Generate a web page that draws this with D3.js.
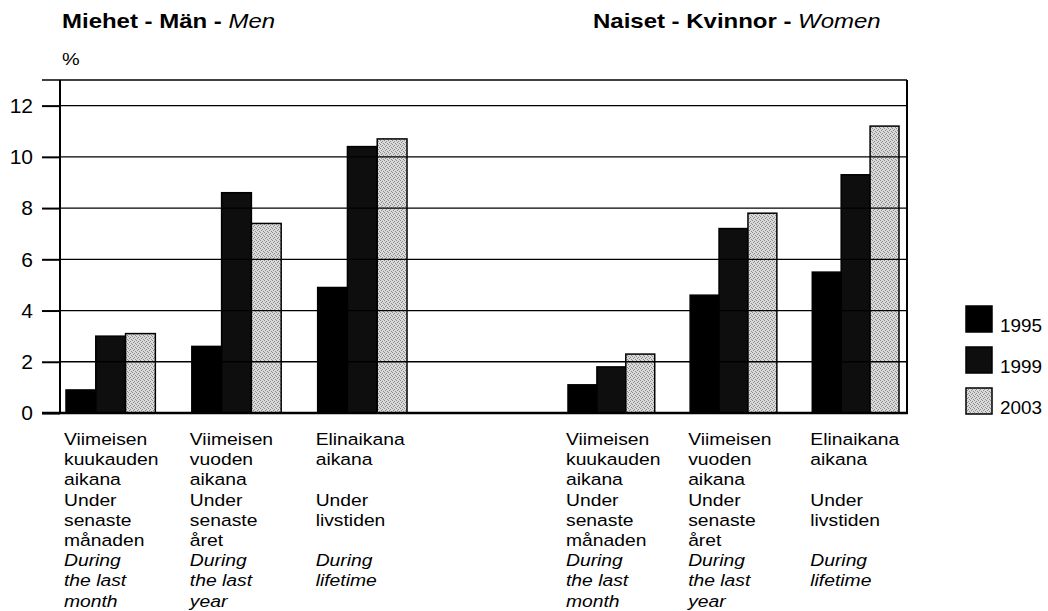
<!DOCTYPE html>
<html>
<head>
<meta charset="utf-8">
<script src="https://cdn.jsdelivr.net/npm/d3@7"></script>
<style>
  body { margin: 0; background: #fff; }
  svg { font-family: "Liberation Sans", Arial, Helvetica, sans-serif; }
</style>
</head>
<body>
<div id="chart"></div>
<script>
// data
const years = ['1995', '1999', '2003']
const categoryKeys = ['month', 'year', 'lifetime']
const yTicks = [0, 2, 4, 6, 8, 10, 12]
// label lines: Finnish, Swedish, English (italic)
const labelFi = [['Viimeisen', 'kuukauden', 'aikana'], ['Viimeisen', 'vuoden', 'aikana'], ['Elinaikana', 'aikana', '']]
const labelSv = [['Under', 'senaste', 'månaden'], ['Under', 'senaste', 'året'], ['Under', 'livstiden', '']]
const labelEn = [['During', 'the last', 'month'], ['During', 'the last', 'year'], ['During', 'lifetime', '']]
const men1995 = [0.9, 2.6, 4.9]
const men1999 = [3.0, 8.6, 10.4]
const men2003 = [3.1, 7.4, 10.7]
const women1995 = [1.1, 4.6, 5.5]
const women1999 = [1.8, 7.2, 9.3]
const women2003 = [2.3, 7.8, 11.2]

// layout (pixels)
const width = 1048
const height = 611
const plotLeft = 60
const plotRight = 907
const plotTop = 80
const plotBottom = 413
const stretch = 1.17 // the scanned text is a bit wider than Arial

const panels = [
  { title: 'Miehet - Män - ', titleEn: 'Men', titleX: 62, range: [66, 407], series: [men1995, men1999, men2003] },
  { title: 'Naiset - Kvinnor - ', titleEn: 'Women', titleX: 593, range: [568, 899], series: [women1995, women1999, women2003] }
]

const svg = d3.select('#chart').append('svg')
  .attr('width', width)
  .attr('height', height)

// stippled grey fill for 2003
const pat = svg.append('defs').append('pattern')
  .attr('id', 'dots')
  .attr('width', 4).attr('height', 4)
  .attr('patternUnits', 'userSpaceOnUse')
pat.append('rect').attr('width', 4).attr('height', 4).attr('fill', '#dadada')
;[[0, 0], [2, 1], [1, 2], [3, 3]].forEach(d => {
  pat.append('rect').attr('x', d[0]).attr('y', d[1]).attr('width', 1).attr('height', 1).attr('fill', '#8a8a8a')
})

const y = d3.scaleLinear().domain([0, 13]).range([plotBottom, plotTop])
const fill = d3.scaleOrdinal().domain(years).range(['#000', '#0e0e0e', 'url(#dots)'])

// bars
panels.forEach(p => {
  const x0 = d3.scaleBand().domain(categoryKeys).range(p.range).paddingInner(0.29)
  const x1 = d3.scaleBand().domain(years).range([0, x0.bandwidth()])
  const rows = []
  categoryKeys.forEach((c, i) => {
    years.forEach((yr, j) => rows.push({ cat: c, year: yr, value: p.series[j][i] }))
  })

  svg.append('g').selectAll('rect')
    .data(rows)
    .join('rect')
    .attr('x', d => x0(d.cat) + x1(d.year))
    .attr('y', d => y(d.value))
    .attr('width', x1.bandwidth())
    .attr('height', d => y(0) - y(d.value))
    .attr('fill', d => fill(d.year))
    .attr('stroke', '#000')
    .attr('stroke-width', 1.5)

  // category labels under each group
  const lab = svg.append('g').attr('font-size', 16.5).attr('fill', '#000')
  categoryKeys.forEach((c, i) => {
    const lines = labelFi[i].concat(labelSv[i], labelEn[i])
    lines.forEach((t, k) => {
      if (!t) return
      lab.append('text')
        .attr('transform', `translate(${x0(c) - 2},${445 + k * 20.2}) scale(${stretch},1)`)
        .attr('font-style', k >= 6 ? 'italic' : 'normal')
        .text(t)
    })
  })

  // panel title
  const title = svg.append('text')
    .attr('transform', `translate(${p.titleX},28) scale(${stretch},1)`)
    .attr('font-size', 20.5)
  title.append('tspan').attr('font-weight', 'bold').text(p.title)
  title.append('tspan').attr('font-style', 'italic').text(p.titleEn)
})

// gridlines over the bars
svg.append('g').selectAll('line')
  .data(yTicks.filter(v => v > 0))
  .join('line')
  .attr('x1', plotLeft).attr('x2', plotRight)
  .attr('y1', d => y(d)).attr('y2', d => y(d))
  .attr('stroke', '#000')
  .attr('stroke-width', 1.3)

// frame
svg.append('line').attr('x1', 42).attr('x2', plotRight).attr('y1', y(13)).attr('y2', y(13))
  .attr('stroke', '#000').attr('stroke-width', 1.6)
svg.append('line').attr('x1', plotLeft).attr('x2', plotLeft).attr('y1', plotTop).attr('y2', plotBottom)
  .attr('stroke', '#000').attr('stroke-width', 2)
svg.append('line').attr('x1', plotRight).attr('x2', plotRight).attr('y1', plotTop).attr('y2', plotBottom)
  .attr('stroke', '#000').attr('stroke-width', 2)
svg.append('line').attr('x1', 42).attr('x2', plotRight + 1).attr('y1', y(0)).attr('y2', y(0))
  .attr('stroke', '#000').attr('stroke-width', 2.5)

// y axis
const axis = svg.append('g')
  .attr('transform', `translate(${plotLeft},0)`)
  .call(d3.axisLeft(y).tickValues(yTicks).tickSize(18).tickPadding(9))
axis.select('.domain').remove()
axis.selectAll('line').attr('stroke', '#000').attr('stroke-width', 2)
axis.selectAll('text')
  .attr('font-size', 21)
  .attr('font-family', '"Liberation Sans", Arial, sans-serif')
  .attr('fill', '#000')

svg.append('text')
  .attr('transform', `translate(62,65) scale(${stretch},1)`)
  .attr('font-size', 17)
  .text('%')

// legend
const legend = svg.append('g').selectAll('g')
  .data(years)
  .join('g')
  .attr('transform', (d, i) => `translate(966,${306 + i * 41})`)
legend.append('rect')
  .attr('width', 26).attr('height', 26)
  .attr('fill', d => fill(d))
  .attr('stroke', '#000').attr('stroke-width', 1.5)
legend.append('text')
  .attr('transform', `translate(34,26) scale(1.05,1)`)
  .attr('font-size', 18)
  .text(d => d)
</script>
</body>
</html>
